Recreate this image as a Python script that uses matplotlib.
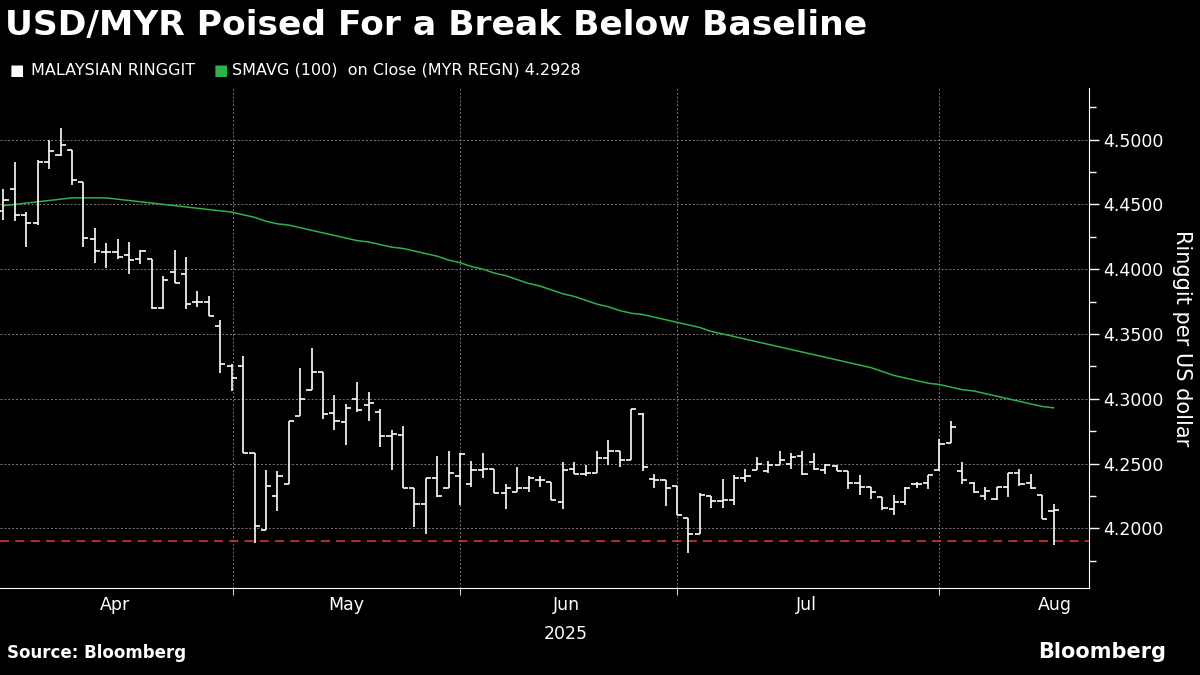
import numpy as np
import matplotlib.pyplot as plt
from matplotlib.ticker import MultipleLocator, FixedLocator

# daily OHLC for USD/MYR (index = trading day)
opens = [4.445, 4.462, 4.442, 4.436, 4.483, 4.488, 4.492, 4.467, 4.423, 4.413,
         4.413, 4.411, 4.408, 4.408, 4.370, 4.398, 4.396, 4.375, 4.375, 4.356,
         4.325, 4.325, 4.258, 4.199, 4.225, 4.234, 4.287, 4.307, 4.321, 4.289,
         4.282, 4.300, 4.295, 4.290, 4.271, 4.272, 4.231, 4.219, 4.239, 4.231,
         4.240, 4.234, 4.245, 4.246, 4.227, 4.228, 4.231, 4.237, 4.236, 4.220,
         4.246, 4.242, 4.243, 4.254, 4.260, 4.253, 4.288, 4.238, 4.237, 4.233,
         4.208, 4.196, 4.225, 4.221, 4.222, 4.239, 4.245, 4.244, 4.249, 4.250,
         4.256, 4.251, 4.245, 4.248, 4.244, 4.235, 4.232, 4.224, 4.215, 4.220,
         4.234, 4.235, 4.245, 4.266, 4.244, 4.235, 4.225, 4.223, 4.232, 4.243,
         4.235, 4.226, 4.213]
highs = [4.462, 4.483, 4.444, 4.484, 4.500, 4.509, 4.492, 4.467, 4.432, 4.420,
         4.423, 4.421, 4.415, 4.408, 4.395, 4.415, 4.409, 4.383, 4.379, 4.361,
         4.327, 4.333, 4.258, 4.245, 4.244, 4.283, 4.324, 4.339, 4.321, 4.303,
         4.296, 4.313, 4.305, 4.292, 4.276, 4.279, 4.231, 4.239, 4.256, 4.260,
         4.258, 4.252, 4.258, 4.246, 4.234, 4.247, 4.240, 4.240, 4.236, 4.251,
         4.251, 4.249, 4.260, 4.268, 4.260, 4.292, 4.289, 4.242, 4.237, 4.233,
         4.208, 4.227, 4.225, 4.238, 4.241, 4.246, 4.255, 4.252, 4.260, 4.258,
         4.260, 4.258, 4.250, 4.249, 4.244, 4.241, 4.232, 4.224, 4.226, 4.232,
         4.236, 4.241, 4.269, 4.283, 4.251, 4.236, 4.232, 4.232, 4.243, 4.246,
         4.242, 4.226, 4.219]
lows = [4.438, 4.437, 4.417, 4.434, 4.477, 4.487, 4.465, 4.417, 4.405, 4.401,
        4.408, 4.396, 4.404, 4.369, 4.369, 4.389, 4.369, 4.371, 4.364, 4.320,
        4.306, 4.258, 4.189, 4.199, 4.213, 4.234, 4.287, 4.307, 4.284, 4.276,
        4.264, 4.290, 4.283, 4.263, 4.245, 4.231, 4.201, 4.196, 4.224, 4.231,
        4.218, 4.232, 4.239, 4.227, 4.215, 4.228, 4.228, 4.232, 4.222, 4.215,
        4.242, 4.240, 4.243, 4.249, 4.247, 4.253, 4.244, 4.231, 4.217, 4.210,
        4.181, 4.196, 4.216, 4.216, 4.218, 4.236, 4.245, 4.243, 4.249, 4.246,
        4.241, 4.245, 4.242, 4.244, 4.230, 4.226, 4.223, 4.214, 4.210, 4.218,
        4.231, 4.230, 4.244, 4.266, 4.234, 4.227, 4.222, 4.222, 4.224, 4.233,
        4.230, 4.207, 4.187]
closes = [4.453, 4.442, 4.436, 4.483, 4.491, 4.496, 4.469, 4.424, 4.414, 4.413,
          4.409, 4.407, 4.414, 4.370, 4.392, 4.389, 4.373, 4.375, 4.364, 4.327,
          4.316, 4.258, 4.202, 4.233, 4.240, 4.283, 4.300, 4.321, 4.288, 4.283,
          4.293, 4.291, 4.297, 4.271, 4.273, 4.231, 4.219, 4.239, 4.225, 4.243,
          4.257, 4.245, 4.246, 4.227, 4.231, 4.231, 4.239, 4.237, 4.222, 4.245,
          4.242, 4.243, 4.254, 4.260, 4.253, 4.292, 4.247, 4.237, 4.231, 4.210,
          4.196, 4.226, 4.221, 4.222, 4.239, 4.240, 4.250, 4.249, 4.253, 4.255,
          4.242, 4.246, 4.249, 4.244, 4.235, 4.232, 4.228, 4.216, 4.220, 4.231,
          4.234, 4.241, 4.265, 4.278, 4.237, 4.228, 4.229, 4.232, 4.243, 4.234,
          4.231, 4.207, 4.214]

# 100-day simple moving average on close
sma100 = [4.449, 4.450, 4.451, 4.452, 4.453, 4.454, 4.455, 4.455, 4.455, 4.455,
          4.454, 4.453, 4.452, 4.451, 4.450, 4.449, 4.448, 4.447, 4.446, 4.445,
          4.444, 4.442, 4.440, 4.437, 4.435, 4.434, 4.432, 4.430, 4.428, 4.426,
          4.424, 4.422, 4.421, 4.419, 4.417, 4.416, 4.414, 4.412, 4.410, 4.407,
          4.405, 4.402, 4.400, 4.397, 4.395, 4.392, 4.389, 4.387, 4.384, 4.381,
          4.379, 4.376, 4.373, 4.371, 4.368, 4.366, 4.365, 4.363, 4.361, 4.359,
          4.357, 4.355, 4.352, 4.350, 4.348, 4.346, 4.344, 4.342, 4.340, 4.338,
          4.336, 4.334, 4.332, 4.330, 4.328, 4.326, 4.324, 4.321, 4.318, 4.316,
          4.314, 4.312, 4.311, 4.309, 4.307, 4.306, 4.304, 4.302, 4.300, 4.298,
          4.296, 4.294, 4.293]

baseline = 4.1900
month_labels = ["Apr", "May", "Jun", "Jul", "Aug"]
month_label_pos = [9.8, 30.0, 49.3, 70.3, 92.1]
month_grid_pos = [20.1, 40.0, 59.0, 82.0]

fig = plt.figure(figsize=(12, 6.75), dpi=100, facecolor="black")
ax = fig.add_axes([0.0, 0.129, 0.9075, 0.741], facecolor="black")

x = np.arange(len(closes))
tw = 0.45
ax.vlines(x, lows, highs, color="white", lw=1.2, zorder=3)
ax.hlines(opens, x - tw, x, color="white", lw=1.2, zorder=3)
ax.hlines(closes, x, x + tw, color="white", lw=1.2, zorder=3)
ax.plot(x, sma100, color="#2db34a", lw=1.1, zorder=2)
ax.axhline(baseline, color="#e8383a", lw=1.1, ls=(0, (6, 4)), zorder=1)

ax.set_xlim(-0.3, 95.1)
ax.set_ylim(4.154, 4.540)

# grid
ax.yaxis.set_major_locator(MultipleLocator(0.05))
ax.yaxis.set_minor_locator(MultipleLocator(0.025))
ax.grid(axis="y", which="major", color="#7a7a7a", ls=(0, (2, 2)), lw=0.7)
for g in month_grid_pos:
    ax.axvline(g, color="#7a7a7a", ls=(0, (2, 2)), lw=0.7, zorder=0)

ax.yaxis.tick_right()
ax.yaxis.set_label_position("right")
ax.yaxis.set_major_formatter(plt.FuncFormatter(lambda v, p: f"{v:.4f}"))
ax.tick_params(axis="y", which="both", colors="white", labelsize=12.5, length=7, width=1)
ax.tick_params(axis="y", which="minor", length=5)
ax.set_ylabel("Ringgit per US dollar", color="white", fontsize=15, rotation=270, labelpad=20)

ax.xaxis.set_major_locator(FixedLocator(month_label_pos))
ax.set_xticklabels(month_labels)
ax.xaxis.set_minor_locator(FixedLocator(month_grid_pos))
ax.tick_params(axis="x", which="major", colors="white", labelsize=12.5, length=0, pad=6)
ax.tick_params(axis="x", which="minor", colors="white", length=5)
ax.text(49.3, -0.074, "2025", transform=ax.get_xaxis_transform(), color="white",
        fontsize=12.5, ha="center", va="top")

for side in ["top", "left"]:
    ax.spines[side].set_visible(False)
ax.spines["right"].set_color("white")
ax.spines["bottom"].set_color("white")

fig.text(0.004, 0.962, "USD/MYR Poised For a Break Below Baseline", color="white",
         fontsize=24.8, fontweight="bold", va="center", ha="left")
fig.text(0.008, 0.896, "\u25a0", color="white", fontsize=11, va="center")
fig.text(0.026, 0.896, "MALAYSIAN RINGGIT", color="white", fontsize=11.5, va="center")
fig.text(0.178, 0.896, "\u25a0", color="#2db34a", fontsize=11, va="center")
fig.text(0.193, 0.896, "SMAVG (100)  on Close (MYR REGN) 4.2928", color="white",
         fontsize=11.5, va="center")
fig.text(0.006, 0.02, "Source: Bloomberg", color="white", fontsize=12,
         fontweight="bold", va="bottom")
fig.text(0.972, 0.02, "Bloomberg", color="white", fontsize=15,
         fontweight="bold", va="bottom", ha="right")

fig.savefig("out.png", dpi=100, facecolor="black")
